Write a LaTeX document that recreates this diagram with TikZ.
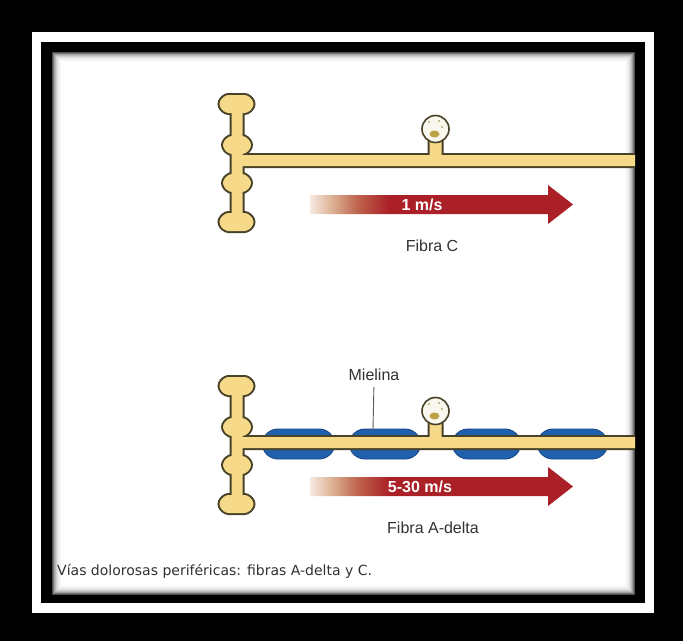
\documentclass[tikz,border=0pt]{standalone}
\usepackage{fontspec}
\setmainfont{Liberation Sans}
\newfontfamily\capfont{DejaVu Sans}
\usetikzlibrary{calc}

\definecolor{axonfill}{RGB}{246,218,138}
\definecolor{axonline}{RGB}{72,66,40}
\definecolor{somafill}{RGB}{250,247,238}
\definecolor{nucleus}{RGB}{190,160,70}
\definecolor{myelin}{RGB}{32,96,172}
\definecolor{myelindark}{RGB}{22,72,135}
\definecolor{arrowred}{RGB}{170,32,38}
\definecolor{arrowtan}{RGB}{222,180,150}
\definecolor{arrowbrown}{RGB}{190,100,78}
\definecolor{labelgray}{RGB}{50,50,50}

% fade along the speed arrows: the arrow's extent maps to 25bp..75bp
\pgfdeclarehorizontalshading{speedfade}{100bp}{color(0bp)=(white); color(25bp)=(white!70!arrowtan); color(29bp)=(arrowtan); color(34bp)=(arrowbrown); color(40bp)=(arrowred); color(100bp)=(arrowred)}

\tikzset{
  label text/.style={font=\fontsize{16}{18}\selectfont, text=labelgray, inner sep=0pt},
  speed text/.style={font=\bfseries\fontsize{16}{18}\selectfont, text=white, inner sep=0pt},
  leader/.style={draw=labelgray!80, line width=0.9pt},
}

% one bead of the terminal branch: centre x, centre y, half width
\newcommand\termblob[3]{({#1-#3+6},{#2-9}) -- ({#1+#3-6},{#2-9}) -- ({#1+#3},{#2-3}) -- ({#1+#3},{#2+3}) -- ({#1+#3-6},{#2+9}) -- ({#1-#3+6},{#2+9}) -- ({#1-#3},{#2+3}) -- ({#1-#3},{#2-3}) -- cycle}

% terminal, axon and soma stalk of a neuron, each piece painted with style #1
\newcommand\neuronpass[1]{%
  \path[#1] (231.5,102) rectangle (242.5,222);
  \path[#1] \termblob{236.5}{104}{17};
  \path[#1] \termblob{237}{145}{14};
  \path[#1] \termblob{237}{183}{14};
  \path[#1] \termblob{236.5}{222}{17};
  \path[#1] (237,155) rectangle (648,166);
  \path[#1] (429.5,138) rectangle (441.5,160);}

\newcommand\drawneuron{%
  \neuronpass{draw=axonline, line width=4pt, rounded corners=3pt}
  \neuronpass{fill=axonfill, rounded corners=3pt}
  \path[fill=somafill, draw=axonline, line width=1.6pt] (435.5,129) circle[radius=13.5pt];
  \fill[nucleus] (434.5,134) ellipse[x radius=5pt, y radius=3.5pt];
  \fill[nucleus!80!black] (429,122) circle[radius=0.9pt];
  \fill[nucleus!80!black] (439,121) circle[radius=0.8pt];
  \fill[nucleus!80!black] (442,127) circle[radius=0.8pt];
}

% speed arrow, body from x=310 to the tip at x=573
\newcommand\speedarrow{%
  \path[shading=speedfade, shading angle=0]
    (310,195) -- (548,195) -- (548,185) -- (573,204.5) -- (548,224) -- (548,214) -- (310,214) -- cycle;
}

% a myelin sheath segment between x=#1 and x=#2
\newcommand\myelinseg[2]{%
  \path[fill=myelin, draw=myelindark, line width=0.8pt, rounded corners=8pt]
    (#1,444) -- ({#1+9},429) -- ({#2-9},429) -- (#2,444) -- ({#2-9},459) -- ({#1+9},459) -- cycle;}

\begin{document}
\begin{tikzpicture}[x=1pt, y=-1pt]
  \useasboundingbox (0,0) rectangle (683,641);

  % frame
  \fill[black] (0,0) rectangle (683,641);
  \fill[white] (32,32) rectangle (654,613);
  \fill[black] (41,42) rectangle (645,603);
  % panel with soft inner shadow
  \foreach \i/\g in {0/30,1/48,2/62,3/73,4/81,5/87,6/92,7/95,8/97,9/99,10/100}
    \fill[white!\g!black] ({52+\i},{52+\i}) rectangle ({635-\i},{595-\i});

  \begin{scope}
    \clip (52,52) rectangle (635,595);

    % C fibre (unmyelinated)
    \drawneuron
    \speedarrow

    % A-delta fibre (myelinated)
    \myelinseg{260}{337}
    \myelinseg{347}{423}
    \myelinseg{450}{523}
    \myelinseg{535}{610}
    \begin{scope}[shift={(0,282)}]
      \drawneuron
      \speedarrow
    \end{scope}
  \end{scope}

  % labels
  \node[speed text] (speedC) at (422,205) {1 m/s};
  \node[label text] (fibraC) at (432,246) {Fibra C};

  \node[label text] (mielina) at (374,375) {Mielina};
  \coordinate (sheath) at (373,430);
  \draw[leader, shorten <=6pt] (mielina.south) -- (sheath);

  \node[speed text] (speedA) at (420,487) {5-30 m/s};
  \node[label text] (fibraA) at (433,528) {Fibra A-delta};

  \node[anchor=base west, inner sep=0pt, text=labelgray,
        font=\capfont\fontsize{14}{16}\selectfont] (caption) at (57,575)
    {Vías dolorosas periféricas: fibras A-delta y C.};
\end{tikzpicture}
\end{document}
